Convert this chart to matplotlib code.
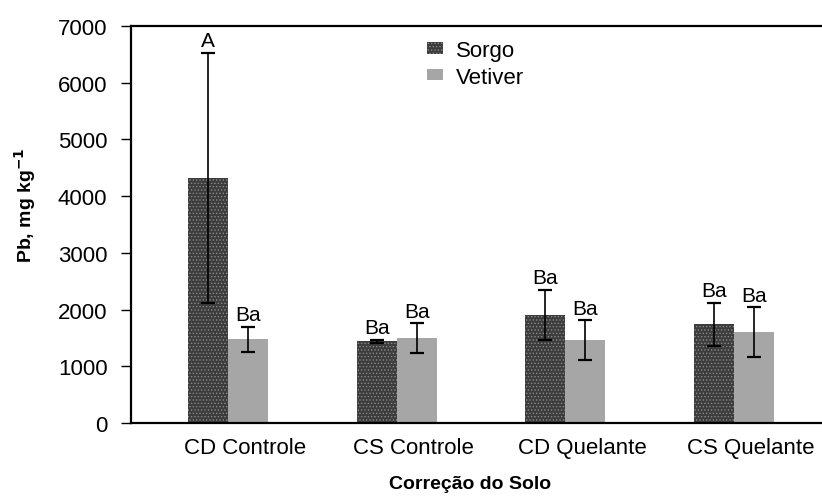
import matplotlib
matplotlib.use('Agg')
import matplotlib.pyplot as plt
import matplotlib.transforms as mtransforms
import numpy as np

plt.rcParams['font.family'] = ['Liberation Sans', 'DejaVu Sans']
plt.rcParams['hatch.linewidth'] = 0.6

categories = ['CD Controle', 'CS Controle', 'CD Quelante', 'CS Quelante']
sorgo = [4320, 1440, 1910, 1740]
sorgo_err = [2210, 30, 440, 380]
vetiver = [1480, 1495, 1460, 1600]
vetiver_err = [220, 260, 355, 440]
sorgo_lbl = ['A', 'Ba', 'Ba', 'Ba']
vetiver_lbl = ['Ba', 'Ba', 'Ba', 'Ba']

fig = plt.figure(figsize=(8.22, 5.02), dpi=100)
ax = fig.add_axes([131/822, 1 - 424/502, 1 - 131/822, (424 - 27)/502])

x = np.arange(len(categories))
w = 0.2375
ax.bar(x - w/2, sorgo, w, color='#3c3c3c', edgecolor='#8a8a8a', hatch='.....',
       linewidth=0, label='Sorgo')
ax.bar(x + w/2, vetiver, w, color='#a6a6a6', linewidth=0, label='Vetiver')
ax.errorbar(x - w/2, sorgo, yerr=sorgo_err, fmt='none', ecolor='black', elinewidth=1.2,
            capsize=5, capthick=1.6)
ax.errorbar(x + w/2, vetiver, yerr=vetiver_err, fmt='none', ecolor='black', elinewidth=1.2,
            capsize=5, capthick=1.6)

# letras de significancia
for i in range(len(categories)):
    ax.text(x[i] - w/2, sorgo[i] + sorgo_err[i] + 40, sorgo_lbl[i], ha='center', va='bottom',
            fontsize=15)
    ax.text(x[i] + w/2, vetiver[i] + vetiver_err[i] + 40, vetiver_lbl[i], ha='center',
            va='bottom', fontsize=15)

ax.set_xlim(-0.578, 3.525)
ax.set_ylim(0, 7000)
ax.set_yticks(range(0, 7001, 1000))
ax.tick_params(axis='y', labelsize=16, length=7, width=1, direction='out', pad=10)
ax.set_xticks(x)
ax.set_xticklabels(categories, fontsize=16)
ax.tick_params(axis='x', length=0, pad=10)
off = mtransforms.ScaledTranslation(17/100, 0, fig.dpi_scale_trans)
for t in ax.get_xticklabels():
    t.set_transform(t.get_transform() + off)

for s in ['left', 'bottom', 'top']:
    ax.spines[s].set_linewidth(1.6)
ax.spines['right'].set_visible(False)

ax.legend(loc='upper left', bbox_to_anchor=(0.399, 1.015), frameon=False, fontsize=16,
          handlelength=0.75, handleheight=0.4, handletextpad=0.55, labelspacing=0.25)

fig.text(470/822, 1 - 485/502, 'Correção do Solo', ha='center', va='center',
         fontsize=14, fontweight='bold')
fig.text(25/822, 1 - 205/502, 'Pb, mg kg$^{\\mathbf{-1}}$', ha='center', va='center',
         rotation=90, fontsize=14, fontweight='bold')

fig.savefig('out.png', dpi=100)
